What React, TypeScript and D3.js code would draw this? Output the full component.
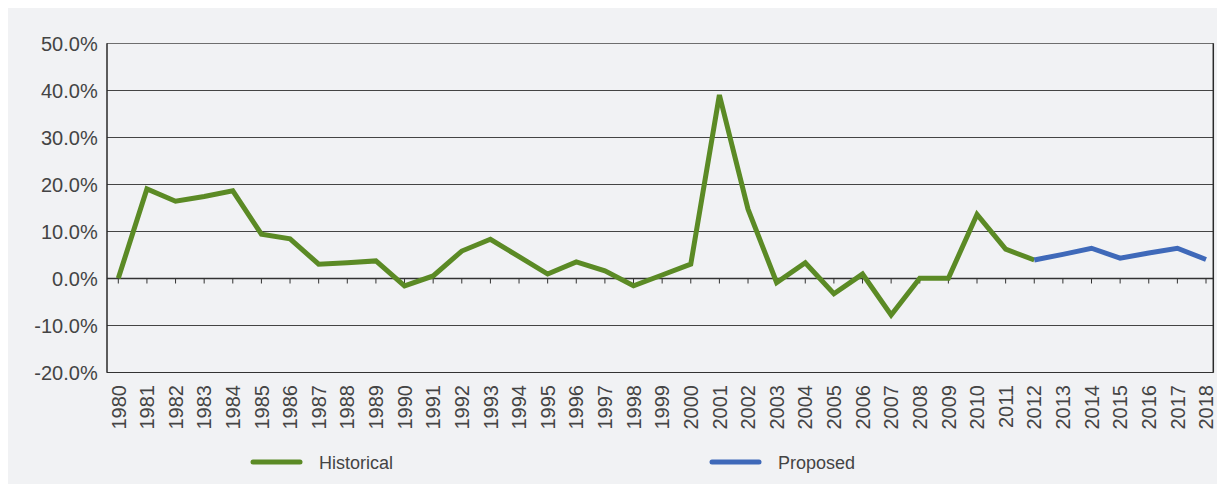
import React, { useEffect, useRef } from "react";
import * as d3 from "d3";

const years = d3.range(1980, 2019).map(String);

const historicalYears = years.slice(0, 33); // 1980..2012
const historicalValues = [
  0, 19.0, 16.4, 17.4, 18.6, 9.4, 8.4, 3.0, 3.3, 3.7, -1.6, 0.5, 5.8, 8.3, 4.6,
  0.9, 3.5, 1.6, -1.6, 0.7, 3.0, 39.0, 14.7, -0.9, 3.3, -3.3, 0.9, -7.8, 0.0,
  0.0, 13.6, 6.2, 3.9,
];

const proposedYears = years.slice(32); // 2012..2018
const proposedValues = [3.9, 5.1, 6.4, 4.3, 5.4, 6.4, 4.0];

const yTicks = [-20, -10, 0, 10, 20, 30, 40, 50];

const seriesNames = ["Historical", "Proposed"];
const seriesColors = ["#5b8a25", "#3f69b9"];

const W = 1217;
const H = 476;
const FONT = "'Liberation Sans', Arial, sans-serif";

const App = () => {
  const ref = useRef<SVGSVGElement>(null);

  useEffect(() => {
    const svg = d3.select(ref.current);
    svg.selectAll("*").remove();

    const left = 99;
    const right = 1205.3;
    const top = 35.3;
    const bottom = 364.3;

    const x = d3.scalePoint().domain(years).range([110.3, 1198]);
    const y = d3.scaleLinear().domain([-20, 50]).range([bottom, top]);

    // gridlines
    svg
      .append("g")
      .selectAll("line")
      .data(yTicks)
      .join("line")
      .attr("x1", left)
      .attr("x2", right)
      .attr("y1", (d) => Math.round(y(d)) + 0.5)
      .attr("y2", (d) => Math.round(y(d)) + 0.5)
      .attr("stroke", (d) => (d === 50 ? "#6e6e6e" : d === 0 || d === -20 ? "#333" : "#444"))
      .attr("stroke-width", (d) => (d === 0 ? 1.5 : 1));

    // left & right borders
    [left, right].forEach((xx) => {
      svg
        .append("line")
        .attr("x1", xx)
        .attr("x2", xx)
        .attr("y1", top)
        .attr("y2", bottom + 0.5)
        .attr("stroke", "#2a2a2a")
        .attr("stroke-width", 1.5);
    });

    // ticks on zero line
    const y0 = Math.round(y(0)) + 0.5;
    svg
      .append("g")
      .selectAll("line")
      .data(years)
      .join("line")
      .attr("x1", (d) => x(d)!)
      .attr("x2", (d) => x(d)!)
      .attr("y1", y0)
      .attr("y2", y0 + 5)
      .attr("stroke", "#333")
      .attr("stroke-width", 1);

    // y labels
    svg
      .append("g")
      .selectAll("text")
      .data(yTicks)
      .join("text")
      .attr("x", 89.7)
      .attr("y", (d) => y(d))
      .attr("dy", "0.36em")
      .attr("text-anchor", "end")
      .attr("font-family", FONT)
      .attr("font-size", "20px")
      .attr("fill", "#444")
      .text((d) => d.toFixed(1) + "%");

    // x labels
    svg
      .append("g")
      .selectAll("text")
      .data(years)
      .join("text")
      .attr("transform", (d) => `translate(${x(d)}, 377) rotate(-90)`)
      .attr("dy", "0.36em")
      .attr("text-anchor", "end")
      .attr("font-family", FONT)
      .attr("font-size", "20px")
      .attr("fill", "#444")
      .text((d) => d);

    const line = d3
      .line<[string, number]>()
      .x((d) => x(d[0])!)
      .y((d) => y(d[1]));

    const series: [string, number][][] = [
      historicalYears.map((yr, i) => [yr, historicalValues[i]]),
      proposedYears.map((yr, i) => [yr, proposedValues[i]]),
    ];

    series.forEach((pts, i) => {
      svg
        .append("path")
        .datum(pts)
        .attr("d", line)
        .attr("fill", "none")
        .attr("stroke", seriesColors[i])
        .attr("stroke-width", 5)
        .attr("stroke-linejoin", "miter")
        .attr("stroke-linecap", "butt");
    });

    // legend
    const legendX = [245, 704];
    seriesNames.forEach((name, i) => {
      svg
        .append("line")
        .attr("x1", legendX[i])
        .attr("x2", legendX[i] + 47)
        .attr("y1", 454)
        .attr("y2", 454)
        .attr("stroke", seriesColors[i])
        .attr("stroke-width", 5)
        .attr("stroke-linecap", "round");
      svg
        .append("text")
        .attr("x", legendX[i] + 66)
        .attr("y", 461)
        .attr("font-family", FONT)
        .attr("font-size", "18px")
        .attr("fill", "#444")
        .text(name);
    });
  }, []);

  return (
    <svg
      ref={ref}
      width={W}
      height={H}
      style={{ display: "block", background: "#f1f2f4" }}
    ></svg>
  );
};

export default App;
